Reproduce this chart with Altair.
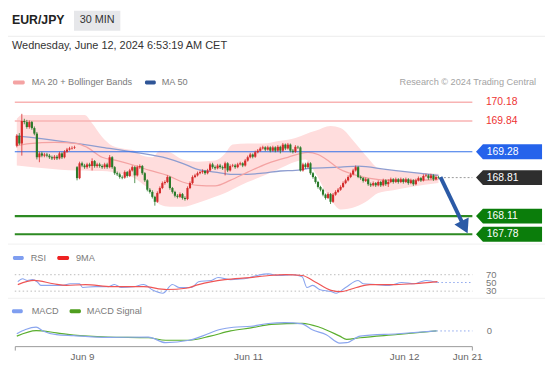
import altair as alt
import pandas as pd

FONT = "Liberation Sans"
W, H = 545, 359

# ---------------- candle data (EUR/JPY, 30 min) ----------------
opens = [169.39,169.57,169.43,169.84,169.82,169.73,169.82,169.71,169.61,169.18,
         169.25,169.21,169.23,169.21,169.18,169.16,169.19,169.16,169.25,169.18,
         169.28,169.32,169.34,169.35,169.00,168.80,169.07,169.03,169.00,169.05,
         169.02,169.11,169.02,169.05,169.02,169.00,169.05,169.00,169.18,169.00,
         168.89,168.87,168.82,168.81,168.91,168.84,168.94,169.00,168.85,169.00,
         169.02,168.89,168.76,168.59,168.55,168.46,168.37,168.53,168.62,168.71,
         168.73,168.82,168.62,168.55,168.48,168.46,168.51,168.44,168.42,168.62,
         168.71,168.82,168.85,168.89,168.91,168.93,168.89,168.94,169.05,169.00,
         168.98,169.03,169.00,168.98,169.07,168.94,169.02,169.03,169.00,169.05,
         169.07,169.03,169.12,169.18,169.23,169.19,169.27,169.30,169.34,169.36,
         169.32,169.36,169.30,169.36,169.30,169.37,169.30,169.41,169.34,169.41,
         169.30,169.28,169.37,169.36,168.94,169.05,169.00,169.07,168.89,168.82,
         168.73,168.64,168.59,168.50,168.44,168.51,168.37,168.50,168.55,168.59,
         168.64,168.71,168.76,168.82,168.87,168.94,169.00,168.82,168.80,168.75,
         168.78,168.69,168.67,168.71,168.67,168.73,168.67,168.76,168.69,168.73,
         168.78,168.73,168.78,168.73,168.78,168.73,168.78,168.71,168.76,168.69,
         168.76,168.80,168.76,168.84,168.85,168.80,168.85,168.78,168.82]
closes = [169.57,169.43,169.84,169.82,169.73,169.82,169.71,169.61,169.18,169.25,
          169.21,169.23,169.21,169.18,169.16,169.19,169.16,169.25,169.18,169.28,
          169.32,169.34,169.35,169.36,168.80,169.07,169.03,169.00,169.05,169.02,
          169.11,169.02,169.05,169.02,169.00,169.05,169.00,169.18,169.00,168.89,
          168.87,168.82,168.81,168.91,168.84,168.94,169.00,168.85,169.00,169.02,
          168.89,168.76,168.59,168.55,168.46,168.37,168.53,168.62,168.71,168.73,
          168.82,168.62,168.55,168.48,168.46,168.51,168.44,168.42,168.62,168.71,
          168.82,168.85,168.89,168.91,168.93,168.89,168.94,169.05,169.00,168.98,
          169.03,169.00,168.98,169.07,168.94,169.02,169.03,169.00,169.05,169.07,
          169.03,169.12,169.18,169.23,169.19,169.27,169.30,169.34,169.36,169.32,
          169.36,169.30,169.36,169.30,169.37,169.30,169.41,169.34,169.41,169.30,
          169.28,169.37,169.36,168.94,169.05,169.00,169.07,168.89,168.82,168.73,
          168.64,168.59,168.50,168.44,168.51,168.37,168.50,168.55,168.59,168.64,
          168.71,168.76,168.82,168.87,168.94,169.00,168.82,168.80,168.75,168.78,
          168.69,168.67,168.71,168.67,168.73,168.67,168.76,168.69,168.73,168.78,
          168.73,168.78,168.73,168.78,168.73,168.78,168.71,168.76,168.69,168.76,
          168.80,168.76,168.84,168.85,168.80,168.85,168.78,168.82,168.81]
highs = [169.60,169.62,169.97,169.88,169.86,169.85,169.84,169.74,169.64,169.28,
         169.28,169.26,169.26,169.24,169.21,169.22,169.22,169.28,169.27,169.31,
         169.35,169.37,169.38,169.39,169.02,169.10,169.10,169.06,169.08,169.08,
         169.16,169.13,169.08,169.08,169.05,169.08,169.08,169.22,169.20,169.02,
         168.92,168.90,168.85,168.94,168.93,168.97,169.03,169.02,169.03,169.05,
         169.04,168.91,168.78,168.62,168.58,168.48,168.56,168.65,168.74,168.76,
         168.85,168.84,168.64,168.57,168.51,168.54,168.53,168.47,168.65,168.74,
         168.85,168.88,168.92,168.94,168.96,168.95,168.97,169.08,169.08,169.03,
         169.06,169.06,169.03,169.10,169.09,169.05,169.06,169.06,169.08,169.10,
         169.09,169.15,169.21,169.26,169.25,169.30,169.33,169.37,169.39,169.38,
         169.39,169.38,169.39,169.38,169.40,169.39,169.44,169.43,169.44,169.43,
         169.33,169.40,169.39,169.38,169.08,169.08,169.10,169.09,168.91,168.84,
         168.75,168.66,168.61,168.52,168.54,168.53,168.53,168.58,168.62,168.67,
         168.74,168.79,168.85,168.90,168.97,169.03,169.02,168.85,168.82,168.81,
         168.80,168.72,168.74,168.73,168.76,168.75,168.79,168.78,168.78,168.81,
         168.80,168.81,168.80,168.81,168.80,168.81,168.80,168.79,168.78,168.79,
         168.83,168.82,168.87,168.88,168.87,168.88,168.87,168.85,168.84]
lows = [169.36,169.40,169.21,169.78,169.70,169.70,169.68,169.58,169.14,169.09,
        169.18,169.18,169.18,169.15,169.13,169.13,169.13,169.14,169.15,169.16,
        169.26,169.30,169.32,169.33,168.76,168.78,169.00,168.97,168.97,168.99,
        168.94,168.99,168.99,168.99,168.97,168.97,168.97,168.98,168.97,168.86,
        168.84,168.79,168.78,168.79,168.81,168.82,168.92,168.71,168.83,168.97,
        168.86,168.73,168.56,168.52,168.43,168.30,168.35,168.51,168.60,168.68,
        168.71,168.59,168.52,168.45,168.43,168.44,168.41,168.39,168.40,168.60,
        168.69,168.80,168.83,168.87,168.88,168.86,168.87,168.92,168.97,168.95,
        168.96,168.97,168.95,168.85,168.91,168.92,169.00,168.97,168.98,169.03,
        169.00,169.01,169.10,169.16,169.16,169.17,169.25,169.28,169.32,169.29,
        169.30,169.27,169.28,169.27,169.28,169.25,169.28,169.31,169.32,169.27,
        169.25,169.26,169.33,168.92,168.92,168.97,168.98,168.86,168.79,168.70,
        168.61,168.56,168.47,168.41,168.42,168.33,168.35,168.48,168.53,168.57,
        168.62,168.69,168.74,168.80,168.85,168.92,168.80,168.77,168.72,168.73,
        168.66,168.64,168.65,168.64,168.65,168.64,168.65,168.66,168.64,168.71,
        168.70,168.71,168.70,168.71,168.70,168.71,168.68,168.69,168.66,168.67,
        168.74,168.73,168.74,168.82,168.77,168.78,168.75,168.76,168.79]

# ---------------- indicators ----------------
bb_idx = [0,2,11,24,27,30,34,38,42,47,50,54,57,61,66,72,79,83,86,92,98,105,111,115,119,
          125,129,135,140,144,150,157,168]
bb_upper = [169.88,169.95,169.95,169.95,169.95,169.80,169.55,169.39,169.34,169.30,169.21,
            169.18,169.30,169.27,169.14,169.10,169.12,169.25,169.41,169.43,169.43,169.48,
            169.53,169.60,169.66,169.75,169.71,169.43,169.16,168.98,168.94,168.91,168.88]
bb_lower = [169.03,169.02,168.98,168.94,168.94,168.93,168.93,168.91,168.87,168.80,168.70,
            168.55,168.32,168.28,168.28,168.35,168.46,168.53,168.60,168.73,168.84,168.98,
            169.10,169.14,168.89,168.41,168.23,168.28,168.40,168.53,168.58,168.64,168.71]
ma20_idx = [0,5,15,24,28,34,40,47,53,60,66,72,79,85,92,100,108,116,120,124,128,134,140,150,160,168]
ma20 = [169.39,169.43,169.45,169.43,169.36,169.18,169.12,169.03,168.94,168.85,168.73,168.67,
        168.66,168.76,168.91,169.07,169.18,169.27,169.23,169.12,168.98,168.87,168.80,168.76,
        168.76,168.78]
ma50_idx = [0,8,21,34,47,60,66,72,79,85,92,98,105,111,117,129,136,147,160,168]
ma50 = [169.57,169.53,169.45,169.36,169.27,169.16,169.07,168.96,168.91,168.87,168.87,168.89,
        168.93,168.94,168.98,169.00,169.02,168.96,168.89,168.85]

rsi_idx = [0.4,2.3,4.2,6.2,8.1,9.6,14.6,18.5,21.2,25,26.2,31.2,36.6,38.9,41.6,46.6,50.5,54.3,
           58.2,62,64.7,69.7,72.4,77.5,80.2,85.2,90.6,95.6,100.2,104.4,109.8,113.7,115.6,117.9,
           120.6,125.2,127.2,131,136,138,143,148.4,153.4,158.4,163,167.6]
rsi = [53,60,56,58,53,44,44,44,48,48,39,41,41,46,39,41,46,32,25,46,39,39,53,56,63,58,60,68,72,
       68,70,65,39,44,34,29,25,39,56,48,46,44,51,48,56,51]
rsi_ma_idx = [0.4,6.9,14.6,19.7,27.4,37.8,50.5,59.7,67.4,72.4,82.9,92.9,100.6,107.1,113.7,118.7,
              125.2,129.1,135.3,140.7,150.7,158.4,167.6]
rsi_ma = [46,56,48,44,46,41,41,34,37,46,58,63,68,70,68,53,32,29,39,46,46,48,53]

macd_idx = [0,3.5,7.7,10.4,15.8,22.7,36.2,52.4,59.3,68.6,74.4,80.9,86.3,93.3,100.2,106.7,113.7,
            117.5,123.3,128.7,131.4,136.8,151.8,167.2]
macd = [-0.03,0.015,0.04,0.0,-0.04,-0.05,-0.07,-0.066,-0.126,-0.10,-0.05,0.015,0.04,0.05,0.08,
        0.09,0.075,0.015,-0.04,-0.13,-0.126,-0.056,-0.03,0.0]
sig_idx = [0,7.7,15.8,22.7,36.2,52.4,59.3,68.6,77.1,85.2,93.3,101.4,113.7,120.6,128.7,131.4,
           136.8,151.8,167.2]
sig = [-0.056,0.004,-0.02,-0.045,-0.066,-0.073,-0.10,-0.10,-0.056,0.0,0.033,0.07,0.082,0.04,
       -0.056,-0.09,-0.073,-0.038,0.0]

resistance = [170.18, 169.84]
pivot = 169.28
last_price = 168.81
support = [168.11, 167.78]
rsi_levels = [70, 50, 30]
rsi_guides = [70, 30]

date_idx = [26.2, 92.3, 154.5, 179.6]
date_labels = ["Jun 9", "Jun 11", "Jun 12", "Jun 21"]

arrow_from = (168.8, 168.82)
arrow_to = (177.6, 167.98)
arrow_tip = (178.4, 167.91)

# ---------------- scales ----------------
XS = alt.Scale(domain=[-1.541, 208.478], nice=False, zero=False)
PS = alt.Scale(domain=[165.413, 171.847], nice=False, zero=False)
RS = alt.Scale(domain=[-147.96, 711.9], nice=False, zero=False)
MS = alt.Scale(domain=[-0.359, 3.440], nice=False, zero=False)
LX0, LX1 = -0.8, 181.5
AX0 = -0.6

RED, GREEN = "#d42a2a", "#2a7a2a"


def X(f):
    return alt.X(f, type="quantitative", scale=XS, axis=None)


def Y(f, s):
    return alt.Y(f, type="quantitative", scale=s, axis=None)


def hline(values, scale, color, width, dash=None, x0=LX0, x1=LX1):
    df = pd.DataFrame({"v": values})
    df["a"] = x0
    df["b"] = x1
    kw = dict(color=color, strokeWidth=width)
    if dash:
        kw["strokeDash"] = dash
    return alt.Chart(df).mark_rule(**kw).encode(x=X("a"), x2="b", y=Y("v", scale))


def txt(s, x, y, size, color, weight="normal", align="left"):
    return alt.Chart(pd.DataFrame({"t": [s]})).mark_text(
        align=align, baseline="middle", fontSize=size, color=color,
        fontWeight=weight, font=FONT
    ).encode(text="t:N", x=alt.value(x), y=alt.value(y))


def box(x, x2, y, y2, color, r=0):
    return alt.Chart(pd.DataFrame({"a": [0]})).mark_rect(color=color, cornerRadius=r).encode(
        x=alt.value(x), x2=alt.value(x2), y=alt.value(y), y2=alt.value(y2))


def sep(y, color):
    return alt.Chart(pd.DataFrame({"a": [0]})).mark_rule(color=color, strokeWidth=1).encode(
        x=alt.value(0), x2=alt.value(W), y=alt.value(y))


BADGE = "M -1 0 L -0.79 -0.224 L 1 -0.224 L 1 0.224 L -0.79 0.224 Z"


def badge(price, color):
    df = pd.DataFrame({"p": [price], "t": [f"{price:.2f}"]})
    b = alt.Chart(df).mark_point(shape=BADGE, filled=True, size=4489, color=color,
                                 opacity=1, strokeWidth=0).encode(
        x=alt.value(508.5), y=Y("p", PS))
    t = alt.Chart(df).mark_text(align="left", baseline="middle", fontSize=10.5,
                                color="white", font=FONT).encode(
        x=alt.value(486), y=Y("p", PS), text="t:N")
    return [b, t]


candles = pd.DataFrame({"i": list(range(len(closes))), "open": opens, "high": highs,
                        "low": lows, "close": closes})
candles["dir"] = ["up" if c >= o else "down" for o, c in zip(opens, closes)]
ccol = alt.Color("dir:N", scale=alt.Scale(domain=["up", "down"], range=[RED, GREEN]), legend=None)

layers = []
# header
layers.append(sep(26, "#ececec"))
layers.append(txt("EUR/JPY", 4, 10, 12.5, "#222222", weight="bold"))
layers.append(box(67, 114, 0, 20.5, "#e6e7ea"))
layers.append(txt("30 MIN", 90.5, 10, 11, "#333333", align="center"))
layers.append(txt("Wednesday, June 12, 2024 6:53:19 AM CET", 4, 36, 11.1, "#333333"))
# price legend
layers.append(box(5, 17, 71, 75, "#f4a3a3", 1.5))
layers.append(txt("MA 20 + Bollinger Bands", 24, 72.7, 9.3, "#7a7a7a"))
layers.append(box(139, 150, 71, 75, "#2f5597", 1.5))
layers.append(txt("MA 50", 156, 72.7, 9.3, "#7a7a7a"))
layers.append(txt("Research \u00a9 2024 Trading Central", 536, 72.7, 9.3, "#a3a3a3", align="right"))

# bollinger band + moving averages
layers.append(alt.Chart(pd.DataFrame({"i": bb_idx, "lo": bb_lower, "hi": bb_upper}))
              .mark_area(color="#ffdddd", interpolate="monotone")
              .encode(x=X("i"), y=Y("lo", PS), y2="hi"))
layers.append(alt.Chart(pd.DataFrame({"i": ma50_idx, "v": ma50}))
              .mark_line(color="#8e9dd0", strokeWidth=1.3, interpolate="monotone")
              .encode(x=X("i"), y=Y("v", PS)))
layers.append(alt.Chart(pd.DataFrame({"i": ma20_idx, "v": ma20}))
              .mark_line(color="#f4a3a3", strokeWidth=1.3, interpolate="monotone")
              .encode(x=X("i"), y=Y("v", PS)))

# level lines
layers.append(hline(resistance, PS, "#f8b3b3", 1.5))
layers.append(hline([pivot], PS, "#3370e8", 1.2))
layers.append(hline(support, PS, "#2d8a22", 2.2))
layers.append(hline([last_price], PS, "#999999", 1, dash=[2, 2], x0=168.6))

# candles
layers.append(alt.Chart(candles).mark_rule(strokeWidth=0.8).encode(
    x=X("i"), y=Y("low", PS), y2="high", color=ccol))
layers.append(alt.Chart(candles).mark_bar(size=2.2).encode(
    x=X("i"), y=Y("open", PS), y2="close", color=ccol))

# forecast arrow
layers.append(alt.Chart(pd.DataFrame({"a": [arrow_from[0]], "b": [arrow_to[0]],
                                      "p": [arrow_from[1]], "q": [arrow_to[1]]}))
              .mark_rule(color="#2b5aa6", strokeWidth=4, strokeCap="butt")
              .encode(x=X("a"), x2="b", y=Y("p", PS), y2="q"))
layers.append(alt.Chart(pd.DataFrame({"a": [arrow_tip[0]], "p": [arrow_tip[1]]}))
              .mark_point(shape="triangle-down", filled=True, size=260, angle=334,
                          color="#2b5aa6", opacity=1, strokeWidth=0)
              .encode(x=X("a"), y=Y("p", PS)))

# price labels
layers.append(alt.Chart(pd.DataFrame({"p": resistance, "t": [f"{v:.2f}" for v in resistance]}))
              .mark_text(align="left", baseline="middle", fontSize=10.5, color="#ee3333", font=FONT)
              .encode(x=alt.value(485), y=Y("p", PS), text="t:N"))
layers += badge(pivot, "#2563eb")
layers += badge(last_price, "#2e2e2e")
for s in support:
    layers += badge(s, "#0b7d0b")

# separators
layers.append(sep(237, "#f0f0f0"))
layers.append(sep(292, "#f0f0f0"))

# RSI panel
layers.append(box(5, 16, 249, 253, "#7f9ef0", 1.5))
layers.append(txt("RSI", 23, 251, 9.3, "#7a7a7a"))
layers.append(box(50, 62, 249, 253, "#ee2222", 1.5))
layers.append(txt("9MA", 69, 251, 9.3, "#7a7a7a"))
layers.append(hline(rsi_guides, RS, "#bbbbbb", 1, dash=[1.5, 2.5]))
layers.append(hline([rsi[-1]], RS, "#8aa5ee", 1, dash=[1.5, 2.5], x0=rsi_idx[-1]))
layers.append(alt.Chart(pd.DataFrame({"i": rsi_idx, "v": rsi}))
              .mark_line(color="#8aa5ee", strokeWidth=1.1, interpolate="monotone")
              .encode(x=X("i"), y=Y("v", RS)))
layers.append(alt.Chart(pd.DataFrame({"i": rsi_ma_idx, "v": rsi_ma}))
              .mark_line(color="#ef5555", strokeWidth=1.2, interpolate="monotone")
              .encode(x=X("i"), y=Y("v", RS)))
layers.append(alt.Chart(pd.DataFrame({"v": rsi_levels, "t": [str(v) for v in rsi_levels]}))
              .mark_text(align="left", baseline="middle", fontSize=9.6, color="#777777", font=FONT)
              .encode(x=alt.value(485), y=Y("v", RS), text="t:N"))

# MACD panel
layers.append(box(4, 15, 303, 307, "#7f9ef0", 1.5))
layers.append(txt("MACD", 24, 305, 9.3, "#7a7a7a"))
layers.append(box(62.5, 74, 303, 307, "#4f9e1f", 1.5))
layers.append(txt("MACD Signal", 80, 305, 9.3, "#7a7a7a"))
layers.append(hline([0], MS, "#8aa5ee", 1, dash=[1.5, 2.5], x0=macd_idx[-1]))
layers.append(alt.Chart(pd.DataFrame({"i": sig_idx, "v": sig}))
              .mark_line(color="#5aae2e", strokeWidth=1.2, interpolate="monotone")
              .encode(x=X("i"), y=Y("v", MS)))
layers.append(alt.Chart(pd.DataFrame({"i": macd_idx, "v": macd}))
              .mark_line(color="#8aa5ee", strokeWidth=1.2, interpolate="monotone")
              .encode(x=X("i"), y=Y("v", MS)))
layers.append(alt.Chart(pd.DataFrame({"v": [0], "t": ["0"]}))
              .mark_text(align="left", baseline="middle", fontSize=9.6, color="#777777", font=FONT)
              .encode(x=alt.value(486), y=Y("v", MS), text="t:N"))

# time axis
layers.append(alt.Chart(pd.DataFrame({"a": [AX0], "b": [LX1]}))
              .mark_rule(color="#999999", strokeWidth=1)
              .encode(x=X("a"), x2="b", y=alt.value(341)))
layers.append(alt.Chart(pd.DataFrame({"a": [AX0, LX1]}))
              .mark_rule(color="#999999", strokeWidth=1)
              .encode(x=X("a"), y=alt.value(341), y2=alt.value(345)))
layers.append(alt.Chart(pd.DataFrame({"i": date_idx, "t": date_labels}))
              .mark_text(align="center", baseline="middle", fontSize=10, color="#666666", font=FONT)
              .encode(x=X("i"), y=alt.value(352), text="t:N"))

chart = (alt.layer(*layers)
         .resolve_scale(y="independent")
         .properties(width=W, height=H, autosize=alt.AutoSizeParams(type="none"),
                     padding={"left": 0, "right": 0, "top": 0, "bottom": 0},
                     background="white")
         .configure_view(stroke=None))

chart.save("out.html", embed_options={"renderer": "svg", "actions": False})
